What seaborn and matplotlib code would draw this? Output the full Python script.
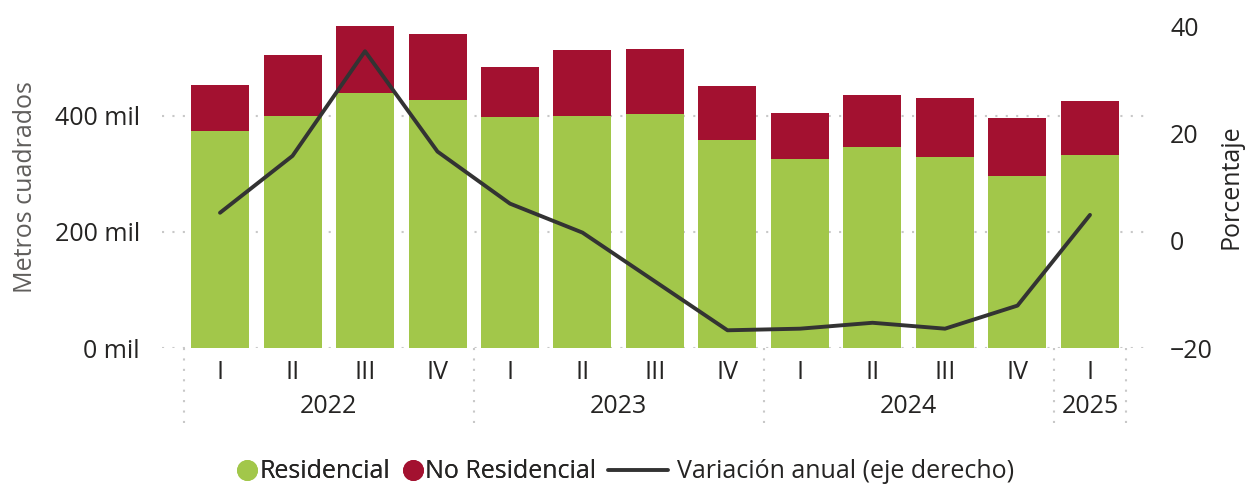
import numpy as np
import pandas as pd
import seaborn as sns
import matplotlib.pyplot as plt
from matplotlib.lines import Line2D

# datos (miles de m2 y % de variacion anual)
anios = ["2022"] * 4 + ["2023"] * 4 + ["2024"] * 4 + ["2025"]
trimestres = ["I", "II", "III", "IV"] * 3 + ["I"]
residencial = [374, 400, 440, 428, 398, 400, 403, 359, 326, 347, 329, 297, 333]
no_residencial = [79, 105, 115, 113, 86, 114, 113, 93, 79, 89, 102, 100, 93]
variacion = [5.2, 15.8, 35.3, 16.6, 6.9, 1.5, -7.6, -16.7, -16.4, -15.3, -16.4, -12.1, 4.8]

verde = "#A2C74A"
rojo = "#A31130"
linea = "#333333"
texto = "#252423"
punteado = (0, (1, 4))

df = pd.DataFrame({
    "periodo": [a + " " + t for a, t in zip(anios, trimestres)],
    "residencial": residencial,
    "no_residencial": no_residencial,
    "variacion": variacion,
})
df["total"] = df["residencial"] + df["no_residencial"]
df["pos"] = np.arange(len(df))

sns.set_style("white")
plt.rcParams["font.family"] = ["Open Sans", "DejaVu Sans"]
fs = 18

fig = plt.figure(figsize=(12.46, 4.84), dpi=100)
ax = fig.add_axes([162 / 1246, 136 / 484, 986 / 1246, 322 / 484])

sns.barplot(data=df, x="periodo", y="total", color=rojo, saturation=1, width=0.8,
            linewidth=0, ax=ax)
sns.barplot(data=df, x="periodo", y="residencial", color=verde, saturation=1, width=0.8,
            linewidth=0, ax=ax)

ax.set_xlim(-0.8, len(df) - 0.2)
ax.set_ylim(0, 555)
ax.set_yticks([0, 200, 400])
ax.set_yticklabels(["0 mil", "200 mil", "400 mil"])
ax.set_xticks([])
ax.set_xlabel("")
ax.set_ylabel("Metros cuadrados", fontsize=fs, color="#605E5C", labelpad=12)
ax.tick_params(axis="y", length=0, pad=16, labelsize=fs, labelcolor=texto)
ax.set_axisbelow(True)
ax.yaxis.grid(True, color="#C8C8C8", linewidth=1.5, linestyle=punteado)
for s in ax.spines.values():
    s.set_visible(False)

# eje x de dos niveles
tr = ax.get_xaxis_transform()
for i, t in enumerate(trimestres):
    ax.text(i, -0.075, t, transform=tr, ha="center", va="center", fontsize=fs, color=texto)
limites = [-0.5]
for i in range(1, len(anios)):
    if anios[i] != anios[i - 1]:
        limites.append(i - 0.5)
limites.append(len(anios) - 0.5)
for a, b in zip(limites[:-1], limites[1:]):
    ax.text((a + b) / 2, -0.183, anios[int(a + 0.5)], transform=tr, ha="center", va="center",
            fontsize=fs, color=texto)
for x in limites:
    ax.plot([x, x], [0, -0.245], transform=tr, color="#C8C8C8", linewidth=1.5,
            linestyle=punteado, clip_on=False)

ax2 = ax.twinx()
sns.lineplot(data=df, x="pos", y="variacion", color=linea, linewidth=2.8, ax=ax2)
ax2.set_ylim(-20, 40)
ax2.set_yticks([-20, 0, 20, 40])
ax2.set_ylabel("Porcentaje", fontsize=fs, color=texto, labelpad=4)
ax2.set_xlabel("")
ax2.tick_params(axis="y", length=0, pad=16, labelsize=fs, labelcolor=texto)
for s in ax2.spines.values():
    s.set_visible(False)

# leyenda: puntos pegados al texto y linea larga
opts = dict(frameon=False, fontsize=fs, borderpad=0, borderaxespad=0, labelcolor=texto,
            loc="center left")
puntos = [
    Line2D([], [], marker="o", linestyle="", color=verde, markersize=14),
    Line2D([], [], marker="o", linestyle="", color=rojo, markersize=14),
]
leg1 = fig.legend(puntos, ["Residencial", "No Residencial"], ncol=2, handlelength=0.8,
                  handletextpad=0.1, columnspacing=0.5,
                  bbox_to_anchor=(237 / 1246, 12 / 484), **opts)
fig.add_artist(leg1)
fig.legend([Line2D([], [], color=linea, linewidth=2.8)], ["Variación anual (eje derecho)"],
           handlelength=2.4, handletextpad=0.35,
           bbox_to_anchor=(608 / 1246, 12 / 484), **opts)

fig.savefig("out.png", dpi=100)
